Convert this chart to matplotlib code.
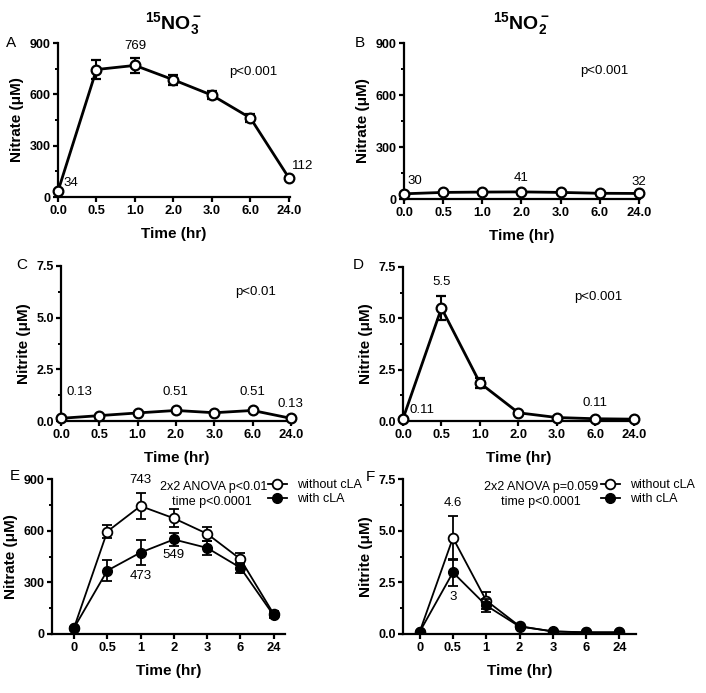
import numpy as np
import matplotlib
matplotlib.use("Agg")
import matplotlib.pyplot as plt
from matplotlib.ticker import MultipleLocator
from matplotlib.lines import Line2D

plt.rcParams['font.family'] = ['Liberation Sans', 'DejaVu Sans']
plt.rcParams['mathtext.fontset'] = 'custom'
plt.rcParams['mathtext.rm'] = 'Liberation Sans'
plt.rcParams['mathtext.bf'] = 'Liberation Sans:bold'

# time points (categorical)
times_ad = ["0.0", "0.5", "1.0", "2.0", "3.0", "6.0", "24.0"]
times_ef = ["0", "0.5", "1", "2", "3", "6", "24"]

# A: 15NO3- -> nitrate
a_val = [34, 745, 769, 685, 595, 462, 112]
a_err = [5, 55, 42, 30, 25, 22, 6]
# B: 15NO2- -> nitrate
b_val = [30, 38, 40, 41, 38, 33, 32]
b_err = [2, 3, 3, 3, 3, 2, 2]
# C: 15NO3- -> nitrite
c_val = [0.13, 0.26, 0.39, 0.51, 0.40, 0.51, 0.13]
c_err = [0.02, 0.03, 0.03, 0.04, 0.03, 0.04, 0.02]
# D: 15NO2- -> nitrite
d_val = [0.11, 5.5, 1.85, 0.40, 0.17, 0.11, 0.09]
d_err = [0.02, 0.6, 0.25, 0.05, 0.03, 0.02, 0.02]
# E: nitrate, with / without cLA
e_without = [35, 595, 743, 672, 582, 435, 116]
e_without_err = [8, 40, 75, 52, 42, 35, 20]
e_with = [35, 368, 473, 549, 500, 385, 108]
e_with_err = [8, 62, 74, 37, 42, 30, 15]
# F: nitrite, with / without cLA
f_without = [0.10, 4.65, 1.62, 0.38, 0.12, 0.08, 0.08]
f_without_err = [0.02, 1.05, 0.43, 0.05, 0.03, 0.02, 0.02]
f_with = [0.10, 2.98, 1.38, 0.36, 0.13, 0.08, 0.08]
f_with_err = [0.02, 0.65, 0.30, 0.05, 0.03, 0.02, 0.02]

W, H = 706, 693
fig = plt.figure(figsize=(W / 100, H / 100), dpi=100)


def add_ax(l, r, t, b):
    return fig.add_axes([l / W, (H - b) / H, (r - l) / W, (b - t) / H])


def style(ax, ylim, major, minor, ylabel, xticks, xlim):
    for s in ['top', 'right']:
        ax.spines[s].set_visible(False)
    for s in ['left', 'bottom']:
        ax.spines[s].set_linewidth(1.6)
    ax.set_ylim(*ylim)
    ax.set_xlim(*xlim)
    ax.yaxis.set_major_locator(MultipleLocator(major))
    ax.yaxis.set_minor_locator(MultipleLocator(minor))
    ax.set_xticks(range(len(xticks)))
    ax.set_xticklabels(xticks)
    ax.tick_params(which='major', length=3.6, width=1.6, pad=1.5)
    ax.tick_params(axis='x', labelsize=9.3, pad=2.5)
    ax.tick_params(axis='y', labelsize=9)
    ax.tick_params(which='minor', length=2.2, width=1.4)
    ax.tick_params(axis='x', which='minor', bottom=False)
    for lab in ax.get_xticklabels() + ax.get_yticklabels():
        lab.set_fontweight('bold')
    ax.set_ylabel(ylabel, fontsize=11, fontweight='bold', labelpad=4)
    ax.set_xlabel("Time (hr)", fontsize=11, fontweight='bold', labelpad=7)


def single(ax, vals, errs):
    x = np.arange(len(vals))
    ax.errorbar(x, vals, yerr=errs, color='black', lw=2, marker='o',
                mfc='white', mec='black', mew=1.6, ms=7, capsize=3.5,
                elinewidth=1.5, capthick=1.5, clip_on=False, zorder=3)


def note(ax, txt, i, v, dx, dy, ha='center'):
    ax.annotate(txt, (i, v), xytext=(dx, dy), textcoords='offset points',
                ha=ha, va='center', fontsize=9.5, zorder=6)


fmt_1 = lambda v, p: "%.1f" % v

# ---- A ----
axA = add_ax(58, 290, 43, 197)
single(axA, a_val, a_err)
style(axA, (0, 900), 300, 150, "Nitrate (\u03bcM)", times_ad, (0, 6.03))
note(axA, "769", 2, a_val[2], 0, 14)
note(axA, "34", 0, a_val[0], 4, 6, 'left')
note(axA, "112", 6, a_val[6], 2, 8.5, 'left')
axA.text(0.84, 0.81, "p<0.001", transform=axA.transAxes, ha='center', va='center', fontsize=9.5)
axA.set_title(r"$\mathbf{^{15}NO_3^-}$", fontsize=14, pad=10)

# ---- B ----
axB = add_ax(404, 640, 43, 199)
single(axB, b_val, b_err)
style(axB, (0, 900), 300, 150, "Nitrate (\u03bcM)", times_ad, (0, 6.03))
note(axB, "30", 0, b_val[0], 8, 9)
note(axB, "41", 3, b_val[3], 0, 10)
note(axB, "32", 6, b_val[6], 0, 8)
axB.text(0.847, 0.82, "p<0.001", transform=axB.transAxes, ha='center', va='center', fontsize=9.5)
axB.set_title(r"$\mathbf{^{15}NO_2^-}$", fontsize=14, pad=10)

# ---- C ----
axC = add_ax(61, 292, 266, 421)
single(axC, c_val, c_err)
style(axC, (0, 7.5), 2.5, 1.25, "Nitrite (\u03bcM)", times_ad, (0, 6.03))
axC.yaxis.set_major_formatter(fmt_1)
note(axC, "0.13", 0, c_val[0], 13, 19)
note(axC, "0.51", 3, c_val[3], 0, 13)
note(axC, "0.51", 5, c_val[5], 0, 13)
note(axC, "0.13", 6, c_val[6], 0, 10)
axC.text(0.844, 0.83, "p<0.01", transform=axC.transAxes, ha='center', va='center', fontsize=9.5)

# ---- D ----
axD = add_ax(403, 635, 267, 421)
single(axD, d_val, d_err)
style(axD, (0, 7.5), 2.5, 1.25, "Nitrite (\u03bcM)", times_ad, (0, 6.03))
axD.yaxis.set_major_formatter(fmt_1)
note(axD, "5.5", 1, d_val[1], 0, 19)
note(axD, "0.11", 0, d_val[0], 14, 6)
note(axD, "0.11", 5, d_val[5], 0, 11)
axD.text(0.84, 0.805, "p<0.001", transform=axD.transAxes, ha='center', va='center', fontsize=9.5)


def pair(ax, v_wo, e_wo, v_w, e_w):
    x = np.arange(len(v_wo))
    ax.errorbar(x, v_wo, yerr=e_wo, color='black', lw=1.3, marker='o',
                mfc='white', mec='black', mew=1.3, ms=7, capsize=3.5,
                elinewidth=1.3, capthick=1.3, zorder=3)
    ax.errorbar(x, v_w, yerr=e_w, color='black', lw=1.3, marker='o',
                mfc='black', mec='black', ms=7, capsize=3.5,
                elinewidth=1.3, capthick=1.3, zorder=4)


def legend(ax, x0):
    h = [Line2D([], [], color='black', lw=1.3, marker='o', mfc='white', mec='black', mew=1.3, ms=7),
         Line2D([], [], color='black', lw=1.3, marker='o', mfc='black', mec='black', ms=7)]
    leg = ax.legend(h, ["without cLA", "with cLA"], loc='upper left', bbox_to_anchor=(x0, 1.0),
                    frameon=False, borderpad=0, borderaxespad=0, handlelength=1.5,
                    handletextpad=0.8, labelspacing=0.15, fontsize=9)
    leg.set_zorder(10)

# ---- E ----
axE = add_ax(52, 285, 479, 634)
pair(axE, e_without, e_without_err, e_with, e_with_err)
style(axE, (0, 900), 300, 150, "Nitrate (\u03bcM)", times_ef, (-0.66, 6.34))
note(axE, "743", 2, e_without[2], 0, 19)
note(axE, "473", 2, e_with[2], 0, -17)
note(axE, "549", 3, e_with[3], 0, -11.5)
axE.text(0.923, 0.948, "2x2 ANOVA p<0.01", transform=axE.transAxes, ha='right', va='center', fontsize=9)
axE.text(0.687, 0.852, "time p<0.0001", transform=axE.transAxes, ha='center', va='center', fontsize=9)
legend(axE, 0.927)

# ---- F ----
axF = add_ax(403, 636, 479, 634)
pair(axF, f_without, f_without_err, f_with, f_with_err)
style(axF, (0, 7.5), 2.5, 1.25, "Nitrite (\u03bcM)", times_ef, (-0.5, 6.5))
axF.yaxis.set_major_formatter(fmt_1)
note(axF, "4.6", 1, f_without[1], 0, 25)
note(axF, "3", 1, f_with[1], 0, -18)
axF.text(0.837, 0.948, "2x2 ANOVA p=0.059", transform=axF.transAxes, ha='right', va='center', fontsize=9)
axF.text(0.592, 0.852, "time p<0.0001", transform=axF.transAxes, ha='center', va='center', fontsize=9)
legend(axF, 0.85)

# panel letters
for lab, x, y in [("A", 11, 43), ("B", 360, 43), ("C", 22, 265),
                  ("D", 358, 265), ("E", 15, 476), ("F", 370, 477)]:
    fig.text(x / W, 1 - y / H, lab, fontsize=11, ha='center', va='center')

fig.savefig("out.png", dpi=100)
